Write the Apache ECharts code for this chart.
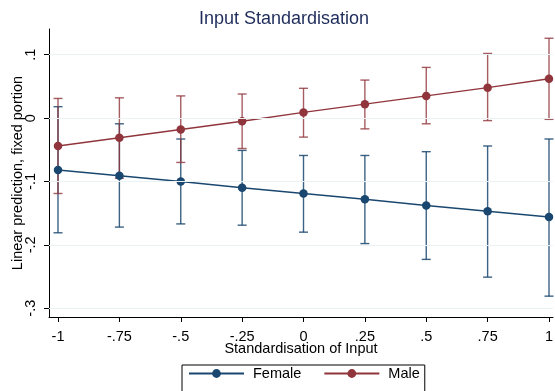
<!DOCTYPE html>
<html><head><meta charset="utf-8">
<script src="https://cdn.jsdelivr.net/npm/echarts@6/dist/echarts.min.js"></script>
<style>html,body{margin:0;padding:0;background:#fff}#c{width:555px;height:391px}</style>
</head><body><div id="c"></div>
<script>
const xValues = [-1, -0.75, -0.5, -0.25, 0, 0.25, 0.5, 0.75, 1];
const femaleMean  = [-0.082, -0.091, -0.100, -0.110, -0.119, -0.128, -0.138, -0.147, -0.156];
const femaleLower = [-0.181, -0.172, -0.167, -0.169, -0.180, -0.198, -0.223, -0.251, -0.281];
const femaleUpper = [0.018, -0.009, -0.033, -0.051, -0.059, -0.059, -0.053, -0.044, -0.033];
const maleMean  = [-0.044, -0.031, -0.018, -0.005, 0.009, 0.022, 0.035, 0.048, 0.062];
const maleLower = [-0.119, -0.095, -0.070, -0.048, -0.030, -0.017, -0.009, -0.004, -0.002];
const maleUpper = [0.031, 0.032, 0.035, 0.038, 0.047, 0.060, 0.080, 0.102, 0.126];
const xTickValues = [-1, -0.75, -0.5, -0.25, 0, 0.25, 0.5, 0.75, 1];
const xTickLabels = ['-1', '-.75', '-.5', '-.25', '0', '.25', '.5', '.75', '1'];
const yTickValues = [0.1, 0, -0.1, -0.2, -0.3];
const yTickLabels = ['.1', '0', '-.1', '-.2', '-.3'];
const seriesNames = ['Female', 'Male'];

const FONT = "'Liberation Sans', Arial, sans-serif";
const NAVY = '#1a476f', MAROON = '#90353b';

function lookup(vals, labels, v) {
  const i = vals.findIndex(t => Math.abs(t - v) < 1e-9);
  return i >= 0 ? labels[i] : '';
}
function errRender(color) {
  return function (params, api) {
    const x = api.value(0), lo = api.value(1), hi = api.value(2);
    const a = api.coord([x, lo]), b = api.coord([x, hi]);
    const cw = 4.5;
    const st = { stroke: color, lineWidth: 1.4 };
    return { type: 'group', children: [
      { type: 'line', shape: { x1: a[0], y1: a[1], x2: b[0], y2: b[1] }, style: st },
      { type: 'line', shape: { x1: a[0] - cw, y1: a[1], x2: a[0] + cw, y2: a[1] }, style: st },
      { type: 'line', shape: { x1: b[0] - cw, y1: b[1], x2: b[0] + cw, y2: b[1] }, style: st }
    ]};
  };
}

const chart = echarts.init(document.getElementById('c'), null, { renderer: 'canvas' });
chart.setOption({
  animation: false,
  backgroundColor: '#fff',
  textStyle: { fontFamily: FONT },
  title: {
    text: 'Input Standardisation', left: 279, top: 5, textAlign: 'center',
    textStyle: { fontFamily: FONT, fontSize: 18, fontWeight: 'normal', color: '#1e2c5b' }
  },
  legend: {
    data: seriesNames, left: 182, top: 365, orient: 'horizontal',
    itemWidth: 55, itemHeight: 11, itemGap: 22,
    padding: [1, 5, 30, 6], borderColor: '#000', borderWidth: 1,
    textStyle: { fontFamily: FONT, fontSize: 14.5, color: '#000', padding: [0, 0, 0, 4] }
  },
  grid: { left: 49, right: 2, top: 29, bottom: 74, containLabel: false, outerBoundsMode: 'none' },
  xAxis: {
    type: 'value', min: -1.0367, max: 1.0163,
    name: 'Standardisation of Input', nameLocation: 'middle', nameGap: 24, nameMoveOverlap: false,
    nameTextStyle: { fontFamily: FONT, fontSize: 14.5, color: '#000' },
    axisLine: { show: true, onZero: false, lineStyle: { color: '#000', width: 1 } },
    axisTick: { show: true, length: 5, customValues: xTickValues, lineStyle: { color: '#000' } },
    axisLabel: { customValues: xTickValues, margin: 12, fontSize: 14.5, color: '#000', fontFamily: FONT,
      formatter: v => lookup(xTickValues, xTickLabels, v) },
    splitLine: { show: false }
  },
  yAxis: {
    type: 'value', min: -0.3139, max: 0.1406,
    name: 'Linear prediction, fixed portion', nameLocation: 'middle', nameGap: 24, nameRotate: 90, nameMoveOverlap: false,
    nameTextStyle: { fontFamily: FONT, fontSize: 14.5, color: '#000' },
    axisLine: { show: true, onZero: false, lineStyle: { color: '#000', width: 1 } },
    axisTick: { show: true, length: 5, customValues: yTickValues, lineStyle: { color: '#000' } },
    axisLabel: { customValues: yTickValues, rotate: 90, margin: 11, fontSize: 14.5, color: '#000', fontFamily: FONT,
      formatter: v => lookup(yTickValues, yTickLabels, v) },
    splitLine: { show: false }
  },
  series: [
    {
      name: 'grid', type: 'line', data: [], z: 0, silent: true,
      markLine: {
        silent: true, symbol: 'none', label: { show: false },
        lineStyle: { color: '#eaf2f3', width: 1, type: 'solid' },
        data: yTickValues.map(v => ({ yAxis: v }))
      }
    },
    {
      name: 'Female CI', type: 'custom', z: 2, silent: true,
      renderItem: errRender('rgba(26,71,111,0.85)'),
      encode: { x: 0, y: [1, 2] },
      data: xValues.map((x, i) => [x, femaleLower[i], femaleUpper[i]])
    },
    {
      name: 'Male CI', type: 'custom', z: 2, silent: true,
      renderItem: errRender('rgba(144,53,59,0.8)'),
      encode: { x: 0, y: [1, 2] },
      data: xValues.map((x, i) => [x, maleLower[i], maleUpper[i]])
    },
    {
      name: seriesNames[0], type: 'line', z: 3, symbol: 'circle', symbolSize: 8.5,
      itemStyle: { color: NAVY }, lineStyle: { color: NAVY, width: 1.4 },
      data: xValues.map((x, i) => [x, femaleMean[i]])
    },
    {
      name: seriesNames[1], type: 'line', z: 3, symbol: 'circle', symbolSize: 8.5,
      itemStyle: { color: MAROON }, lineStyle: { color: MAROON, width: 1.4 },
      data: xValues.map((x, i) => [x, maleMean[i]])
    }
  ]
});
</script></body></html>
